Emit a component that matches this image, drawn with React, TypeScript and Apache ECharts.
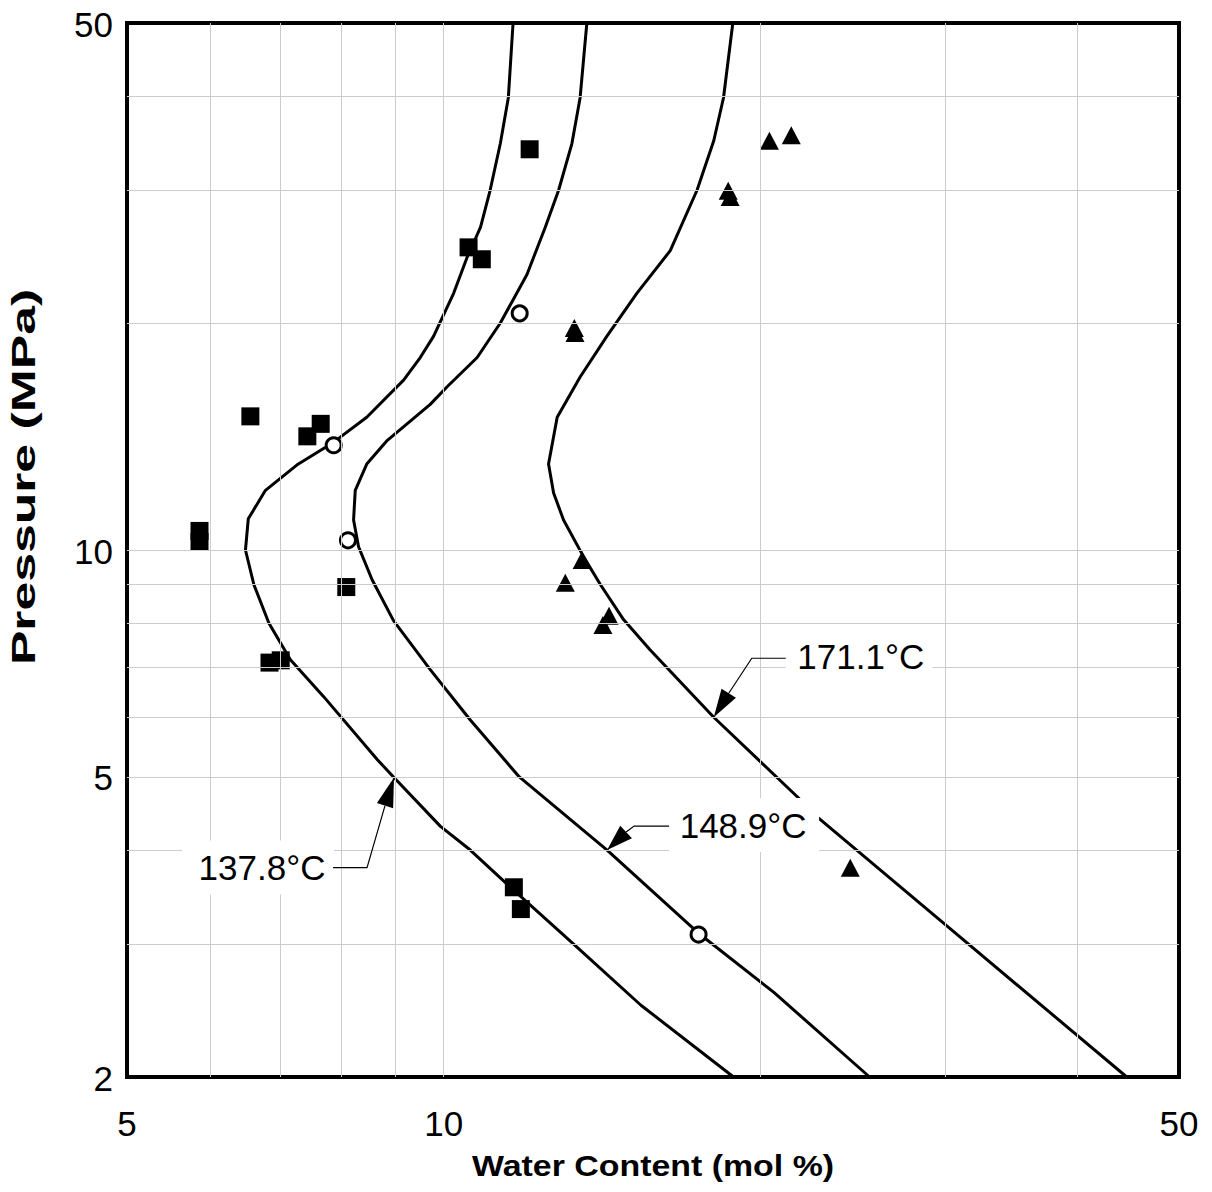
import React, { useEffect, useRef } from "react";
import * as echarts from "echarts";

// Axis tick labels and grid values
const xTickLabels = [5, 10, 50];
const yTickLabels = [2, 5, 10, 50];
const xGridValues = [6, 7, 8, 9, 10, 20, 30, 40];
const yGridValues = [3, 4, 5, 6, 7, 8, 9, 10, 20, 30, 40];
const xMin = 5;
const xMax = 50;
const yMin = 2;
const yMax = 50;

// Model curves: [water content mol %, pressure MPa]
const curve1378 = [
  [18.86, 2], [15.4, 2.49], [13.29, 3], [11.4, 3.64], [10.6, 4.0], [9.93, 4.3],
  [8.96, 5], [8.65, 5.27], [7.69, 6.39], [7.15, 7.15], [6.82, 8], [6.6, 9],
  [6.48, 10], [6.52, 11], [6.77, 12], [7.25, 12.96], [7.86, 13.9], [8.45, 15],
  [9.16, 16.8], [9.5, 18], [9.78, 19.2], [10.22, 21.9], [10.52, 24.4],
  [10.84, 26.8], [11.07, 30], [11.32, 34.6], [11.52, 39.8], [11.64, 50],
];
const curve1489 = [
  [25.4, 2], [20.6, 2.59], [17.53, 3.09], [14.3, 4.0], [13.2, 4.39], [11.8, 5],
  [10.6, 5.95], [9.71, 6.94], [8.96, 8.06], [8.55, 9.13], [8.3, 10.1],
  [8.21, 10.96], [8.24, 12], [8.45, 13], [8.84, 13.98], [9.71, 15.6],
  [10.07, 16.45], [10.76, 18], [11.32, 20], [12.0, 23.2], [12.49, 26.8],
  [12.86, 30], [13.24, 34.6], [13.48, 39.8], [13.68, 50],
];
const curve1711 = [
  [44.6, 2], [30.1, 3.17], [22.63, 4.43], [21.67, 4.71], [18.06, 6.0],
  [15.7, 7.38], [14.83, 8.08], [14.09, 9.0], [13.58, 9.8], [13.0, 10.96],
  [12.72, 11.9], [12.58, 13.0], [12.82, 15.0], [13.48, 16.96], [14.29, 19.2],
  [15.26, 21.9], [16.42, 24.95], [17.41, 30], [18.06, 34.9], [18.45, 39.8],
  [18.83, 50],
];

// Experimental points
const points1378 = [
  [12.07, 34.0], [10.56, 25.2], [10.87, 24.3], [6.55, 15.04], [7.64, 14.7],
  [7.42, 14.15], [5.86, 10.6], [5.86, 10.25], [8.08, 8.93], [6.83, 7.09],
  [7.0, 7.14], [11.66, 3.57], [11.84, 3.34],
];
const points1489 = [
  [11.81, 20.6], [7.86, 13.77], [8.11, 10.3], [17.47, 3.09],
];
const points1711 = [
  [20.4, 34.9], [21.4, 35.5], [18.64, 29.95], [18.72, 29.4], [13.31, 19.7],
  [13.33, 19.4], [13.54, 9.7], [13.05, 9.05], [14.36, 8.18], [14.17, 7.95],
  [24.35, 3.79],
];

// Curve annotations (label + data point the arrow touches)
const annotationLabels = ["137.8°C", "148.9°C", "171.1°C"];
const annotationTips = [[8.97, 4.99], [14.3, 4.0], [18.06, 6.0]];

// Annotation layout in pixels relative to the arrow tip
const annotationLayout = [
  { base: [-9, 28], elbow: [-27, 90], edge: [-61, 90], box: [-212, 63, 152, 54], text: [-132, 90] },
  { base: [19, -18], elbow: [27, -24], edge: [62, -24], box: [62, -52, 150, 54], text: [136, -25] },
  { base: [15, -24], elbow: [38, -59], edge: [72, -59], box: [72, -86, 147, 52], text: [147, -61] },
];

const FONT = '"Liberation Sans", Arial, Helvetica, sans-serif';

export default function App() {
  const ref = useRef<HTMLDivElement>(null);

  useEffect(() => {
    const chart = echarts.init(ref.current as HTMLDivElement, null, { renderer: "svg" });

    const hiddenAxis = {
      type: "log",
      logBase: 10,
      axisLine: { show: false },
      axisTick: { show: false },
      axisLabel: { show: false },
      splitLine: { show: false },
    };

    const curveStyle = { color: "#000", width: 3 };

    chart.setOption({
      animation: false,
      backgroundColor: "#ffffff",
      grid: {
        left: 127,
        right: 33,
        top: 23,
        bottom: 115,
        show: true,
        borderColor: "#000",
        borderWidth: 4,
        backgroundColor: "transparent",
      },
      xAxis: { ...hiddenAxis, min: xMin, max: xMax },
      yAxis: { ...hiddenAxis, min: yMin, max: yMax },
      series: [
        {
          type: "line",
          data: [[xMin, yMin]],
          showSymbol: false,
          symbol: "none",
          lineStyle: { opacity: 0 },
          silent: true,
          z: 1,
          markLine: {
            silent: true,
            symbol: ["none", "none"],
            label: { show: false },
            lineStyle: { color: "#cccccc", width: 1, type: "solid" },
            emphasis: { disabled: true },
            data: [
              ...xGridValues.map((v) => ({ xAxis: v })),
              ...yGridValues.map((v) => ({ yAxis: v })),
            ],
          },
        },
        { name: "137.8°C", type: "line", data: curve1378, symbol: "none", showSymbol: false, lineStyle: curveStyle, z: 3 },
        { name: "148.9°C", type: "line", data: curve1489, symbol: "none", showSymbol: false, lineStyle: curveStyle, z: 3 },
        { name: "171.1°C", type: "line", data: curve1711, symbol: "none", showSymbol: false, lineStyle: curveStyle, z: 3 },
        {
          type: "scatter",
          data: points1378,
          symbol: "rect",
          symbolSize: 18,
          itemStyle: { color: "#000", opacity: 1 },
          z: 4,
        },
        {
          type: "scatter",
          data: points1489,
          symbol: "circle",
          symbolSize: 15,
          itemStyle: { color: "#fff", borderColor: "#000", borderWidth: 3, opacity: 1 },
          z: 4,
        },
        {
          type: "scatter",
          data: points1711,
          symbol: "triangle",
          symbolSize: [19, 18],
          itemStyle: { color: "#000", opacity: 1 },
          z: 4,
        },
      ],
    });

    const toPx = (v: number[]) => chart.convertToPixel({ gridIndex: 0 }, v) as number[];
    const elements: any[] = [];

    // tick labels
    xTickLabels.forEach((v) => {
      const p = toPx([v, yMin]);
      elements.push({
        type: "text",
        z: 50,
        x: p[0],
        y: p[1] + 46,
        style: { text: String(v), font: `35px ${FONT}`, fill: "#000", align: "center", verticalAlign: "middle" },
      });
    });
    yTickLabels.forEach((v) => {
      const p = toPx([xMin, v]);
      elements.push({
        type: "text",
        z: 50,
        x: p[0] - 14,
        y: p[1] + 1,
        style: { text: String(v), font: `35px ${FONT}`, fill: "#000", align: "right", verticalAlign: "middle" },
      });
    });

    // axis titles
    const bl = toPx([xMin, yMin]);
    const tr = toPx([xMax, yMax]);
    elements.push({
      type: "text",
      z: 50,
      x: (bl[0] + tr[0]) / 2 + 0,
      y: bl[1] + 89,
      scaleX: 1.13,
      style: { text: "Water Content (mol %)", font: `bold 30px ${FONT}`, fill: "#000", align: "center", verticalAlign: "middle" },
    });
    elements.push({
      type: "text",
      z: 50,
      x: 23,
      y: 477,
      rotation: Math.PI / 2,
      scaleX: 1.52,
      style: { text: "Pressure (MPa)", font: `bold 34px ${FONT}`, fill: "#000", align: "center", verticalAlign: "middle" },
    });

    // annotations
    annotationLabels.forEach((label, i) => {
      const t = toPx(annotationTips[i]);
      const L = annotationLayout[i];
      const B = [t[0] + L.base[0], t[1] + L.base[1]];
      const dx = t[0] - B[0];
      const dy = t[1] - B[1];
      const len = Math.sqrt(dx * dx + dy * dy) || 1;
      const nx = -dy / len;
      const ny = dx / len;
      const hw = 8.5;
      elements.push({
        type: "rect",
        z: 100,
        shape: { x: t[0] + L.box[0], y: t[1] + L.box[1], width: L.box[2], height: L.box[3] },
        style: { fill: "#fff" },
      });
      elements.push({
        type: "polyline",
        z: 101,
        shape: {
          points: [
            [t[0] + L.edge[0], t[1] + L.edge[1]],
            [t[0] + L.elbow[0], t[1] + L.elbow[1]],
            B,
          ],
        },
        style: { stroke: "#000", lineWidth: 1.2, fill: null },
      });
      elements.push({
        type: "polygon",
        z: 101,
        shape: {
          points: [
            t,
            [B[0] + nx * hw, B[1] + ny * hw],
            [B[0] - nx * hw, B[1] - ny * hw],
          ],
        },
        style: { fill: "#000" },
      });
      elements.push({
        type: "text",
        z: 102,
        x: t[0] + L.text[0],
        y: t[1] + L.text[1],
        style: { text: label, font: `35px ${FONT}`, fill: "#000", align: "center", verticalAlign: "middle" },
      });
    });

    chart.setOption({ graphic: { elements } });

    return () => chart.dispose();
  }, []);

  return (
    <div
      ref={ref}
      style={{ position: "fixed", left: 0, top: 0, width: 1212, height: 1192, background: "#fff" }}
    />
  );
}
